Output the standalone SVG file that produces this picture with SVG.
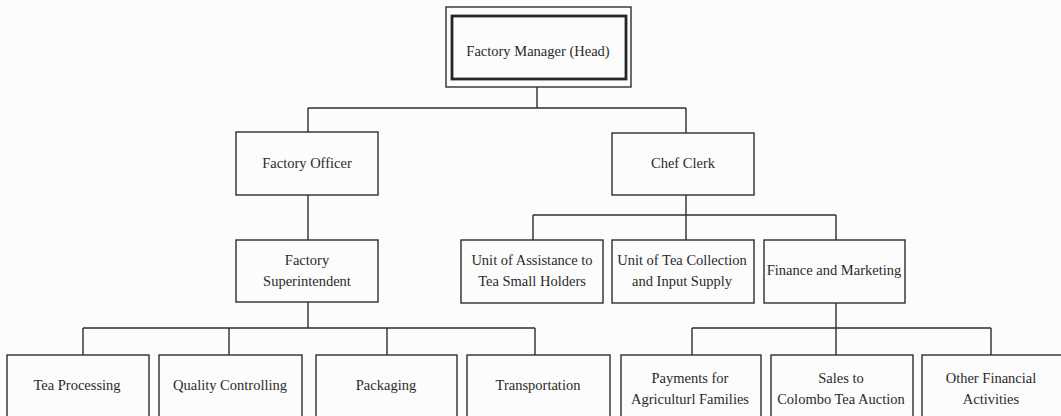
<svg xmlns="http://www.w3.org/2000/svg" width="1061" height="416" viewBox="0 0 1061 416">
  <style>
    .box { fill: none; stroke: #2e2e2e; stroke-width: 1.4; }
    .head-inner { fill: none; stroke: #262626; stroke-width: 2.8; }
    .link { fill: none; stroke: #2e2e2e; stroke-width: 1.4; }
    text { font-family: "Liberation Serif", "Times New Roman", serif; font-size: 14.5px; fill: #2a2a2a; text-anchor: middle; }
  </style>
  <rect width="1061" height="416" fill="#fcfcfc"/>

  <!-- connectors -->
  <g id="connectors" class="link">
    <path d="M537 87 V108 M308 108 H686 M308 108 V132 M686 108 V133"/>
    <path d="M308 195 V240"/>
    <path d="M686 195 V240 M533 215 H836 M533 215 V240 M836 215 V240"/>
    <path d="M308 302 V328 M83 328 H535 M83 328 V355 M229 328 V355 M387 328 V355 M535 328 V355"/>
    <path d="M836 303 V355 M692 328 H991 M692 328 V355 M991 328 V355"/>
  </g>

  <!-- top -->
  <g id="factory-manager">
    <rect class="box" x="446" y="7" width="185" height="80"/>
    <rect class="head-inner" x="452" y="16" width="174" height="63"/>
    <text x="538" y="56">Factory Manager (Head)</text>
  </g>

  <!-- second level -->
  <g id="factory-officer">
    <rect class="box" x="236" y="132" width="142" height="63"/>
    <text x="307" y="168">Factory Officer</text>
  </g>
  <g id="chief-clerk">
    <rect class="box" x="612" y="133" width="142" height="62"/>
    <text x="683" y="168">Chef Clerk</text>
  </g>

  <!-- third level -->
  <g id="factory-superintendent">
    <rect class="box" x="236" y="240" width="142" height="62"/>
    <text x="307" y="265">Factory</text>
    <text x="307" y="286">Superintendent</text>
  </g>
  <g id="unit-assistance">
    <rect class="box" x="461" y="240" width="142" height="63"/>
    <text x="532" y="265">Unit of Assistance to</text>
    <text x="532" y="286">Tea Small Holders</text>
  </g>
  <g id="unit-collection">
    <rect class="box" x="612" y="240" width="142" height="63"/>
    <text x="682" y="265">Unit of Tea Collection</text>
    <text x="682" y="286">and Input Supply</text>
  </g>
  <g id="finance-marketing">
    <rect class="box" x="764" y="240" width="141" height="63"/>
    <text x="834" y="275">Finance and Marketing</text>
  </g>

  <!-- bottom level -->
  <g id="tea-processing">
    <rect class="box" x="7" y="355" width="142" height="70"/>
    <text x="77" y="390">Tea Processing</text>
  </g>
  <g id="quality-controlling">
    <rect class="box" x="159" y="355" width="143" height="70"/>
    <text x="230" y="390">Quality Controlling</text>
  </g>
  <g id="packaging">
    <rect class="box" x="316" y="355" width="141" height="70"/>
    <text x="386" y="390">Packaging</text>
  </g>
  <g id="transportation">
    <rect class="box" x="467" y="355" width="143" height="70"/>
    <text x="538" y="390">Transportation</text>
  </g>
  <g id="payments">
    <rect class="box" x="621" y="355" width="140" height="70"/>
    <text x="690" y="383">Payments for</text>
    <text x="690" y="404">Agriculturl Families</text>
  </g>
  <g id="sales">
    <rect class="box" x="771" y="355" width="142" height="70"/>
    <text x="841" y="383">Sales to</text>
    <text x="841" y="404">Colombo Tea Auction</text>
  </g>
  <g id="other-financial">
    <rect class="box" x="922" y="355" width="150" height="70"/>
    <text x="991" y="383">Other Financial</text>
    <text x="991" y="404">Activities</text>
  </g>
</svg>
